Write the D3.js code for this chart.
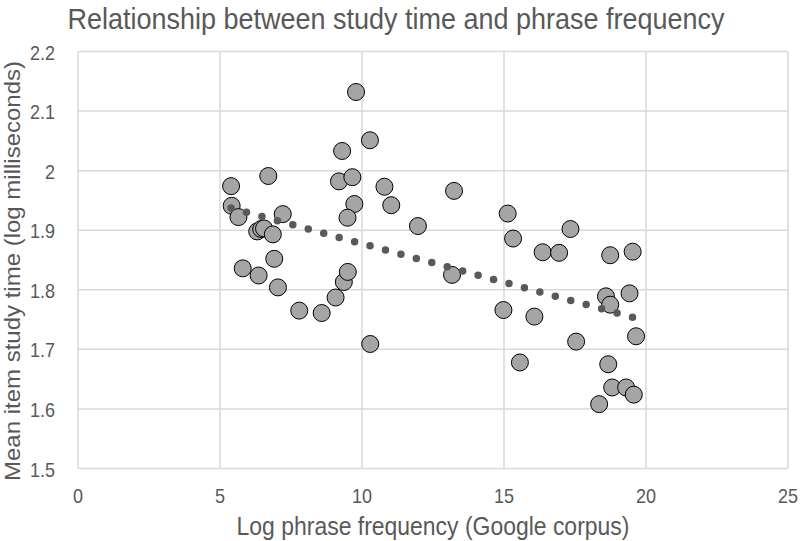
<!DOCTYPE html>
<html><head><meta charset="utf-8">
<script src="https://cdn.jsdelivr.net/npm/d3@7"></script>
<style>body{margin:0;background:#fff;} text{font-family:"Liberation Sans",Arial,sans-serif;fill:#595959;}</style>
</head><body><svg id="c" width="800" height="541"></svg>
<script>
const title = "Relationship between study time and phrase frequency";
const xLabel = "Log phrase frequency (Google corpus)";
const yLabel = "Mean item study time (log milliseconds)";
const xTicks = [0, 5, 10, 15, 20, 25];
const yTicks = [1.5, 1.6, 1.7, 1.8, 1.9, 2.0, 2.1, 2.2];
const freq = [5.39, 6.70, 5.41, 5.65, 7.21, 6.31, 6.45, 6.55, 6.86, 6.91, 5.80, 6.36, 7.04, 7.79, 8.58, 9.07, 9.36, 9.50, 10.29,
  9.19, 9.66, 9.73, 9.49, 10.79, 11.03, 9.79, 10.28, 9.30, 13.24, 11.97,
  15.13, 15.32, 17.34, 16.36, 16.94, 18.74, 19.53, 13.17, 14.98, 16.07, 18.59, 18.74, 17.54, 15.56, 18.67,
  19.42, 19.65, 18.81, 19.30, 19.57, 18.35];
const studyTime = [1.974, 1.991, 1.941, 1.922, 1.927, 1.898, 1.902, 1.903, 1.893, 1.852, 1.836, 1.824, 1.804, 1.765, 1.761, 1.787, 1.813, 1.830, 1.709,
  1.982, 1.989, 1.944, 1.921, 1.973, 1.942, 2.132, 2.051, 2.033, 1.966, 1.907,
  1.928, 1.886, 1.902, 1.863, 1.862, 1.858, 1.864, 1.825, 1.766, 1.755, 1.789, 1.775, 1.713, 1.678, 1.675,
  1.794, 1.722, 1.636, 1.636, 1.624, 1.608];

const svg = d3.select("#c");
const x = d3.scaleLinear().domain([0, 25]).range([78, 788]);
const y = d3.scaleLinear().domain([1.5, 2.2]).range([468.5, 51.5]);
const SX = 0.9; // horizontal squeeze seen in the reference text

// gridlines
svg.append("g").selectAll("line").data(xTicks).join("line")
  .attr("x1", d => x(d)).attr("x2", d => x(d)).attr("y1", y(2.2)).attr("y2", y(1.5))
  .attr("stroke", "#d9d9d9").attr("stroke-width", 1.5);
svg.append("g").selectAll("line").data(yTicks).join("line")
  .attr("x1", x(0)).attr("x2", x(25)).attr("y1", d => y(d)).attr("y2", d => y(d))
  .attr("stroke", "#d9d9d9").attr("stroke-width", 1.5);

// tick labels
const fmtY = d => String(+d.toFixed(1));
svg.append("g").selectAll("text").data(xTicks).join("text")
  .attr("transform", d => `translate(${x(d)},503) scale(${SX},1)`)
  .attr("text-anchor", "middle").style("font-size", "20px").text(d => d);
svg.append("g").selectAll("text").data(yTicks).join("text")
  .attr("transform", d => `translate(55,${y(d) + 8}) scale(${SX},1)`)
  .attr("text-anchor", "end").style("font-size", "20px").text(fmtY);

// trendline (least squares)
const pts = freq.map((f, i) => [f, studyTime[i]]);
const mx = d3.mean(freq), my = d3.mean(studyTime);
const slope = d3.sum(pts, p => (p[0] - mx) * (p[1] - my)) / d3.sum(pts, p => (p[0] - mx) ** 2);
const icpt = my - slope * mx;
const [x0, x1] = d3.extent(freq);

// points
svg.append("g").selectAll("circle").data(pts).join("circle")
  .attr("cx", d => x(d[0])).attr("cy", d => y(d[1])).attr("r", 8.5)
  .attr("fill", "#a5a5a5").attr("stroke", "#000").attr("stroke-width", 1);

svg.append("line")
  .attr("x1", x(x0)).attr("y1", y(icpt + slope * x0))
  .attr("x2", x(x1)).attr("y2", y(icpt + slope * x1))
  .attr("stroke", "#595959").attr("stroke-width", 7.5).attr("stroke-linecap", "round")
  .attr("stroke-dasharray", "0 16");

// titles
svg.append("text").attr("transform", `translate(396,29) scale(${SX},1)`).attr("text-anchor", "middle")
  .style("font-size", "30px").text(title);
svg.append("text").attr("transform", `translate(433,535) scale(${SX},1)`).attr("text-anchor", "middle")
  .style("font-size", "25.5px").text(xLabel);
svg.append("text").attr("transform", `translate(20,271) scale(${SX},1) rotate(-90)`).attr("text-anchor", "middle")
  .style("font-size", "24px").text(yLabel);
</script></body></html>
